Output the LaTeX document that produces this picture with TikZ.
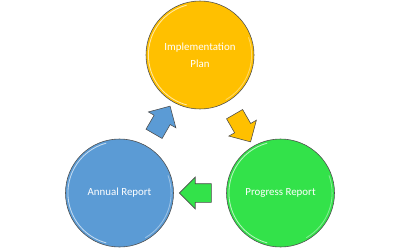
\documentclass[tikz,border=0pt]{standalone}
\usepackage{fontspec}
\setmainfont{Carlito}
\usetikzlibrary{shapes.arrows, positioning, calc}

\definecolor{plangold}{RGB}{255,192,0}
\definecolor{annualblue}{RGB}{91,155,213}
\definecolor{progressgreen}{RGB}{51,226,74}

\begin{document}
\begin{tikzpicture}[
  ball/.style={circle, minimum size=2.7cm, inner sep=0pt, draw=black!70, line width=0.4pt, text=white, align=center, font=\fontsize{7.75}{12}\selectfont},
  blockarrow/.style={single arrow, minimum height=0.8cm, minimum width=0.78cm, inner xsep=0pt, inner ysep=0.225cm, single arrow head extend=0.165cm, draw=black!70, line width=0.4pt},
  shine/.style={white, opacity=0.65, line width=0.6pt}]

  \useasboundingbox (0,0) rectangle (10,6.2);

  % Nodes
  \node (plan) [ball, fill=plangold] at (5,4.825) {Implementation \\ Plan};
  \node (annual) [ball, fill=annualblue, below of=plan, yshift=-2.45cm, xshift=-2.0125cm] {Annual Report};
  \node (progress) [ball, fill=progressgreen, right of=annual, xshift=3.025cm] {Progress Report};

  % Highlights
  \foreach \n in {plan, annual, progress} {
    \draw [shine] (\n.center) ++(105:1.29) arc[start angle=105, end angle=255, radius=1.29];
    \draw [shine, opacity=0.4] (\n.center) ++(-60:1.29) arc[start angle=-60, end angle=20, radius=1.29];
  }

  % Arrows
  \node (toprogress) [blockarrow, fill=plangold, rotate=-60] at ($(plan)!0.5!(progress)$) {};
  \node (toannual) [blockarrow, fill=progressgreen, rotate=180] at ($(progress)!0.5!(annual)$) {};
  \node (toplan) [blockarrow, fill=annualblue, rotate=60] at ($(annual)!0.5!(plan)$) {};
\end{tikzpicture}
\end{document}
